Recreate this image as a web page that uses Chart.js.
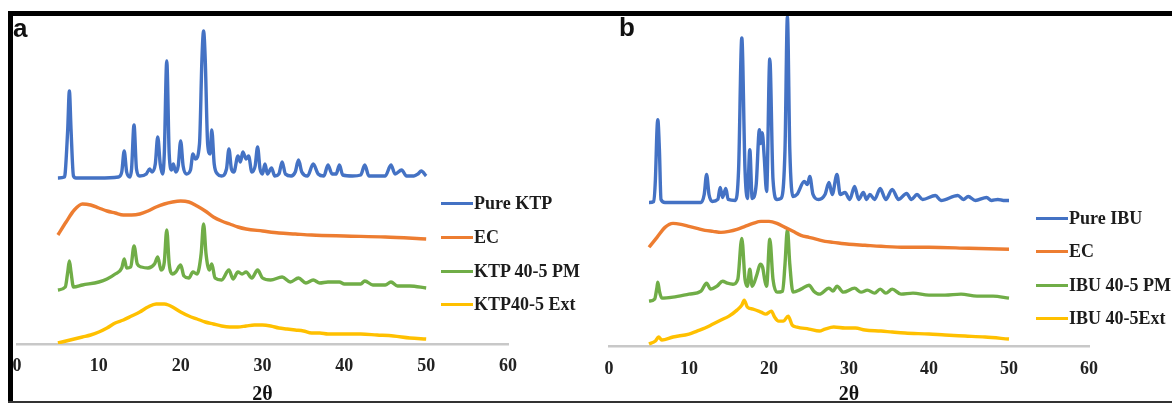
<!DOCTYPE html>
<html>
<head>
<meta charset="utf-8">
<script src="https://cdn.jsdelivr.net/npm/chart.js@4.4.1/dist/chart.umd.min.js"></script>
<style>
  body { margin: 0; background: #fff; }
  #wrap { position: relative; width: 1172px; height: 403px; overflow: hidden; background: #fff; }
  canvas { position: absolute; top: 0; }
  #chartA { left: 0; }
  #chartB { left: 600px; }
  .frame { position: absolute; background: #000; z-index: 5; }
  .tag { position: absolute; font: bold 26px "Liberation Sans", Arial, sans-serif; color: #111; line-height: 1; z-index: 6; }
  .legend { position: absolute; font: bold 18px "Liberation Serif", "Times New Roman", serif; color: #1c1c1c; z-index: 4; white-space: nowrap; }
  .legend .row { position: absolute; left: 0; display: flex; align-items: center; height: 20px; }
  .legend .swatch { width: 32px; height: 3px; margin-right: 1px; }
</style>
</head>
<body>
<div id="wrap">
  <canvas id="chartA" width="600" height="420"></canvas>
  <canvas id="chartB" width="572" height="420"></canvas>
  <div class="legend" id="legA" style="left:441px;top:0"></div>
  <div class="legend" id="legB" style="left:1036px;top:0"></div>
  <div class="frame" style="left:8px;top:11px;width:1164px;height:5px"></div>
  <div class="frame" style="left:8px;top:11px;width:5px;height:392px"></div>
  <div class="frame" style="left:8px;top:401px;width:1164px;height:2px;background:#333"></div>
  <div class="tag" style="left:13px;top:15px">a</div>
  <div class="tag" style="left:619px;top:14px">b</div>
</div>
<script>
// x-axis ticks (2θ)
const tickMin = 0, tickMax = 60, tickStep = 10;

// panel a
const labelsA = ['Pure KTP', 'EC', 'KTP 40-5 PM', 'KTP40-5 Ext'];
const ktpPureX = [5.0,5.8,5.9,6.2,6.4,6.6,6.9,7.2,10,12.4,12.8,13.1,13.4,13.8,14.0,14.3,14.6,15.0,15.8,16.2,16.5,16.9,17.2,17.5,17.8,18.0,18.3,18.6,18.9,19.1,19.4,19.7,20.0,20.3,20.7,21.2,21.5,21.8,22.3,22.6,22.8,23.0,23.3,23.6,23.8,24.1,24.5,25.0,25.6,25.9,26.2,26.5,27.0,27.3,27.6,28.0,28.3,28.7,29.1,29.4,29.7,30.0,30.3,30.6,31.1,31.5,32.0,32.4,32.8,33.5,34.0,34.4,34.8,35.5,36.2,36.8,37.5,38.0,38.5,39.0,39.4,39.8,41.0,42.0,42.5,43.0,44.0,45.0,45.7,46.2,47.0,47.6,48.5,49.0,49.4,50.0];
const ktpPureI = [166,167,172,215,253,215,168,166,166,167,172,193,172,167,175,219,175,168,170,175,172,180,207,180,170,190,283,190,174,180,172,178,203,178,170,174,190,185,200,285,313,285,200,190,214,180,170,168,175,195,175,172,188,182,192,185,188,172,178,197,175,170,180,170,176,168,170,182,170,168,172,184,172,168,180,170,168,179,170,170,179,169,168,169,179,168,168,168,179,170,174,168,168,170,173,168];
const ecAX = [5,6,7,8,9,10,11,12,13,14,15,16,17,18,19,20,21,22,23,24,25,26,27,28,30,32,34,36,40,45,50];
const ecAI = [109,122,134,140,139,136,133,131,129,129,130,133,137,140,142,143,142,138,133,127,123,120,117,115,113,111,110,109,108,107,105];
const ktpPmX = [5,5.9,6.2,6.4,6.6,6.9,8,10,11,12,12.8,13.1,13.4,13.9,14.3,14.7,15.2,16,16.8,17.2,17.6,18.0,18.3,18.6,19.0,19.4,20.0,20.4,21.0,21.5,22.0,22.5,22.8,23.1,23.5,23.8,24.2,25,25.9,26.4,27.0,27.5,28.0,28.7,29.4,30.0,31,32.4,33.4,34.4,35.3,36.2,37,38,39.4,40,42,42.5,43.5,45,45.7,46.5,48,50];
const ktpPmI = [54,57,72,83,72,57,59,62,65,70,76,85,76,77,98,80,77,76,80,87,74,82,114,80,70,72,79,68,66,72,70,90,120,90,74,80,66,64,74,65,72,70,72,66,74,66,64,67,62,66,61,64,61,62,62,60,60,63,59,59,62,58,58,56];
const ktpExtX = [5,6,7,8,9,10,11,12,13,14,15,16,17,18,18.5,19,20,21,22,23,24,25,26,27,28,29,30,31,32,33,34,35,36,37,38,40,42,44,46,48,50];
const ktpExtI = [1,3,5,7,9,12,16,21,24,28,32,37,40,40,39,37,32,28,25,22,20,18,17,17,18,19,19,18,16,15,14,13,11,11,10,10,10,9,8,6,5];

// panel b
const labelsB = ['Pure IBU', 'EC', 'IBU 40-5 PM', 'IBU 40-5Ext'];
const ibuPureX = [5.0,5.6,5.8,6.0,6.1,6.3,6.5,7,11.5,11.9,12.2,12.5,12.9,13.6,13.9,14.2,14.6,14.9,15.8,16.2,16.6,17.0,17.3,17.6,17.9,18.4,18.8,18.95,19.15,19.4,19.7,20.1,20.5,21.0,21.5,22.0,22.3,22.6,23.0,23.5,24.4,24.8,25.1,25.5,26.2,27.0,27.5,27.9,28.5,28.9,29.5,30.1,30.7,31.2,31.8,32.2,32.6,33.2,33.9,34.6,35.4,36.2,37.2,37.8,38.5,39.2,40.8,41.5,43.6,44.3,44.9,45.8,47.2,47.8,48.6,49.3,50];
const ibuPureI = [144,145,167,217,227,197,147,144,144,152,172,152,145,147,159,149,158,147,146,177,309,177,148,197,148,162,217,203,214,190,155,288,167,147,148,197,330,197,150,152,165,162,170,152,147,152,164,152,172,152,154,147,160,147,154,147,152,147,158,147,157,147,153,147,152,147,151,146,151,147,150,146,149,146,147,146,146];
const ecBX = [5,6,7,8,9,10,11,12,13,14,15,16,17,18,19,20,21,22,23,24,25,26,27,28,30,32,34,37,40,45,50];
const ecBI = [99,109,119,123,122,120,118,116,115,114,115,117,120,123,125,125,123,119,115,111,109,107,105,104,102,101,100,99,99,98,97];
const ibuPmX = [5,5.7,6.0,6.1,6.3,6.6,8,10,11.5,12.2,12.7,13.5,14.2,14.8,15.5,16.1,16.6,17.0,17.3,17.6,17.9,18.5,18.9,19.2,19.5,19.7,20.1,20.5,21.0,21.7,22.0,22.3,22.6,23.0,24,25.0,25.6,26.3,27.5,28.0,28.5,29.3,30.7,31.5,32.3,33.2,33.9,34.6,35.4,36.5,38,40,42,44,46,48,50];
const ibuPmI = [45,47,59,64,55,48,49,52,55,63,57,60,65,63,62,67,108,67,60,77,60,72,82,79,65,60,107,67,54,55,82,117,82,54,57,61,55,52,58,55,60,54,58,54,56,53,57,53,57,52,53,51,51,52,50,50,48];
const ibuExtX = [5,5.8,6.2,6.6,8,10,11,12,13,14,15,16,16.6,16.9,17.3,18.0,19.0,19.6,20.3,20.7,21.2,21.8,22.4,22.9,23.5,25,26.3,27.0,28.1,29.5,30.8,32,34,35.4,37,40,42,44.5,47,50];
const ibuExtI = [2,5,9,6,9,12,15,18,22,26,30,36,41,46,39,37,34,32,35,29,25,25,30,21,19,17,15,17,19,18,18,16,15,14,13,12,11,10,9,7];

const colors = ['#4472C4', '#ED7D31', '#70AD47', '#FFC000'];
const serif = '"Liberation Serif", "Times New Roman", serif';

function toPoints(xs, ys) {
  return xs.map((x, i) => ({ x: x, y: ys[i] }));
}

// tickLH: line box of the tick labels, used to push them down without adding side padding
function drawPanel(canvasId, labels, series, pad, yMax, tickLH, titlePad) {
  const datasets = series.map((s, i) => ({
    label: labels[i],
    data: toPoints(s[0], s[1]),
    borderColor: colors[i],
    borderWidth: 3.4,
    pointRadius: 0,
    fill: false,
    cubicInterpolationMode: 'monotone'
  }));
  new Chart(document.getElementById(canvasId), {
    type: 'line',
    data: { datasets: datasets },
    options: {
      responsive: false,
      animation: false,
      devicePixelRatio: 1,
      layout: { padding: pad },
      plugins: { legend: { display: false }, tooltip: { enabled: false } },
      scales: {
        x: {
          type: 'linear', min: tickMin, max: tickMax,
          ticks: { stepSize: tickStep, padding: 2, color: '#222', font: { family: serif, size: 18, weight: 'bold', lineHeight: tickLH + 'px' } },
          grid: { display: false, drawTicks: false },
          border: { color: '#c8c8c8', width: 2.5 },
          title: { display: true, text: '2θ', color: '#111', font: { family: serif, size: 20, weight: 'bold', lineHeight: 1 }, padding: { top: titlePad, bottom: 0 } }
        },
        y: { display: false, min: 0, max: yMax }
      }
    }
  });
}

function drawLegend(id, labels, centers) {
  const box = document.getElementById(id);
  labels.forEach((t, i) => {
    const row = document.createElement('div');
    row.className = 'row';
    row.style.top = (centers[i] - 10) + 'px';
    row.innerHTML = '<span class="swatch" style="background:' + colors[i] + '"></span><span>' + t + '</span>';
    box.appendChild(row);
  });
}

drawPanel('chartA', labelsA,
  [[ktpPureX, ktpPureI], [ecAX, ecAI], [ktpPmX, ktpPmI], [ktpExtX, ktpExtI]],
  { left: 17, right: 92, top: 15, bottom: 15 }, 329, 40, -3);
drawPanel('chartB', labelsB,
  [[ibuPureX, ibuPureI], [ecBX, ecBI], [ibuPmX, ibuPmI], [ibuExtX, ibuExtI]],
  { left: 9, right: 83, top: 15, bottom: 15 }, 332, 42, -7);

drawLegend('legA', labelsA, [203, 237, 271, 304]);
drawLegend('legB', labelsB, [218, 251, 285, 318]);
</script>
</body>
</html>
